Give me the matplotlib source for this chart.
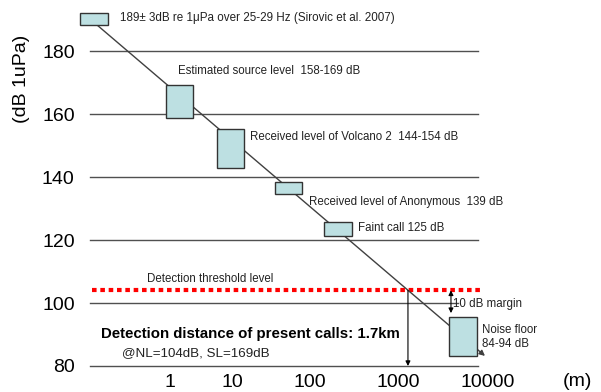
import numpy as np
import matplotlib
matplotlib.use('Agg')
import matplotlib.pyplot as plt
from matplotlib.patches import Rectangle

plt.rcParams['font.family'] = ['Liberation Sans', 'DejaVu Sans']

# call level boxes (distance in m, level in dB)
box_left = [0.035, 0.86, 5.7, 35.6, 144, 3690]
box_right = [0.1, 2.35, 14.3, 78.9, 300, 7550]
box_low = [188.3, 158.7, 142.9, 134.6, 121.3, 83.2]
box_high = [192.1, 169.2, 155.2, 138.4, 125.7, 95.6]

# propagation line end points
line_dist = [0.0665, 9260]
line_db = [188.3, 83.2]

grid_levels = [180, 160, 140, 120, 100, 80]
grid_start = 0.0513
grid_end = [7740, 7740, 7740, 7740, 4600, 7740]
threshold_db = 104
detect_dist = 1291
margin_dist = 3880
margin_low = 96.8

x_ticks = [1, 10, 100, 1000, 10000]
x_labels = ['1', '10', '100', '1000', '10000']

# the decades are not evenly spaced in the original drawing
knot_u = np.array([0, 1, 2, 3, 4])
knot_p = np.array([0, 62, 140, 228, 318])


def fwd(x):
    u = np.log10(np.maximum(x, 1e-12))
    p = np.interp(u, knot_u, knot_p)
    p = np.where(u < 0, u * 62, p)
    p = np.where(u > 4, 318 + (u - 4) * 90, p)
    return p


def inv(p):
    u = np.interp(p, knot_p, knot_u)
    u = np.where(p < 0, p / 62, u)
    u = np.where(p > 318, 4 + (p - 318) / 90, u)
    return 10 ** u


xmin, xmax = grid_start, 11000
span = float(fwd(xmax) - fwd(xmin))

fig = plt.figure(figsize=(6.01, 3.92), dpi=100)
ax = fig.add_axes([90 / 601, 26 / 392, span / 601, 359 / 392])
ax.set_xscale('function', functions=(fwd, inv))
ax.set_xticks(x_ticks)
ax.set_xticklabels(x_labels)
ax.set_yticks(grid_levels)
ax.set_xlim(xmin, xmax)
ax.set_ylim(80, 194)
for s in ax.spines.values():
    s.set_visible(False)
ax.tick_params(axis='both', length=0, labelsize=14)
ax.tick_params(axis='x', pad=6)
ax.tick_params(axis='y', pad=11)

for lev, xe in zip(grid_levels, grid_end):
    ax.plot([grid_start, xe], [lev, lev], color='#505050', lw=1, clip_on=False, zorder=1)

# threshold line
ax.plot([0.0552, 8150], [threshold_db, threshold_db], color='red', lw=3,
        linestyle=(0, (1.1, 0.9)), solid_capstyle='butt', clip_on=False, zorder=2)

# attenuation line
ax.annotate('', xy=(line_dist[1], line_db[1]), xytext=(line_dist[0], line_db[0]),
            arrowprops=dict(arrowstyle='-|>', color='#404040', lw=1,
                            shrinkA=0, shrinkB=0, mutation_scale=8),
            annotation_clip=False, zorder=3)

for l, r, lo, hi in zip(box_left, box_right, box_low, box_high):
    ax.add_patch(Rectangle((l, lo), r - l, hi - lo, facecolor='#bde0e2',
                           edgecolor='#333333', lw=1, clip_on=False, zorder=4))

ax.annotate('', xy=(detect_dist, 80), xytext=(detect_dist, threshold_db),
            arrowprops=dict(arrowstyle='-|>', color='black', lw=0.8,
                            shrinkA=0, shrinkB=0, mutation_scale=7),
            annotation_clip=False, zorder=3)
ax.annotate('', xy=(margin_dist, margin_low), xytext=(margin_dist, threshold_db),
            arrowprops=dict(arrowstyle='<|-|>', color='black', lw=0.8,
                            shrinkA=0, shrinkB=0, mutation_scale=7),
            annotation_clip=False, zorder=3)

small = dict(fontsize=8.3, color='#222222', va='center', ha='left', clip_on=False)
ax.text(0.156, 190.5, '189\u00b1 3dB re 1\u03bcPa over 25-29 Hz (Sirovic et al. 2007)',
        **dict(small, fontsize=8.4))
ax.text(1.35, 173.7, 'Estimated source level  158-169 dB', **small)
ax.text(17, 152.7, 'Received level of Volcano 2  144-154 dB', **small)
ax.text(98, 132.1, 'Received level of Anonymous  139 dB', **small)
ax.text(351, 123.8, 'Faint call 125 dB', **small)
ax.text(0.43, 107.6, 'Detection threshold level', **small)
ax.text(4080, 99.7, '10 dB margin', **small)
ax.text(8580, 91.4, 'Noise floor', **small)
ax.text(8580, 87.0, '84-94 dB', **small)
ax.text(0.077, 90.2, 'Detection distance of present calls: 1.7km', fontsize=10.8,
        fontweight='bold', va='center', ha='left', color='black')
ax.text(0.168, 84.1, '@NL=104dB, SL=169dB', fontsize=9.6, color='#222222',
        va='center', ha='left')

fig.text(577 / 601, 1 - 381 / 392, '(m)', fontsize=14, ha='center', va='center')
fig.text(22 / 601, 1 - 79 / 392, '(dB 1uPa)', fontsize=14, rotation=90,
         ha='center', va='center')

fig.savefig('out.png', dpi=100)
